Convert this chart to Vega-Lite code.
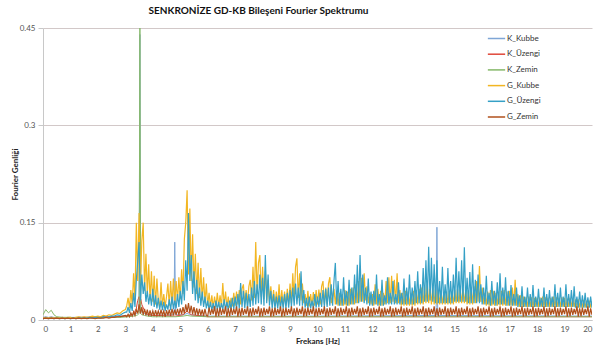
{
"$schema":"https://vega.github.io/schema/vega-lite/v6.json",
"width":549,"height":292,
"autosize":{"type":"none"},
"padding":{"left":43,"top":28,"right":4,"bottom":25},
"background":"white",
"title":{"text":"SENKRONİZE GD-KB Bileşeni Fourier Spektrumu","font":"Lato","fontSize":10,"fontWeight":"bold","color":"#111","anchor":"middle","dx":-59,"offset":8},
"config":{"view":{"stroke":null},"font":"Lato"},
"datasets":{
"k":[
{"f":0,"K_Kubbe":0.004,"K_Üzengi":0.003,"K_Zemin":0.008},
{"f":0.1,"K_Kubbe":0.005,"K_Üzengi":0.004,"K_Zemin":0.016},
{"f":0.2,"K_Kubbe":0.004,"K_Üzengi":0.003,"K_Zemin":0.011},
{"f":0.3,"K_Kubbe":0.005,"K_Üzengi":0.004,"K_Zemin":0.015},
{"f":0.4,"K_Kubbe":0.004,"K_Üzengi":0.003,"K_Zemin":0.008},
{"f":0.5,"K_Kubbe":0.004,"K_Üzengi":0.003,"K_Zemin":0.005},
{"f":0.7,"K_Kubbe":0.004,"K_Üzengi":0.004,"K_Zemin":0.004},
{"f":1.0,"K_Kubbe":0.004,"K_Üzengi":0.003,"K_Zemin":0.004},
{"f":1.3,"K_Kubbe":0.004,"K_Üzengi":0.004,"K_Zemin":0.003},
{"f":1.6,"K_Kubbe":0.004,"K_Üzengi":0.004,"K_Zemin":0.004},
{"f":2.0,"K_Kubbe":0.005,"K_Üzengi":0.004,"K_Zemin":0.003},
{"f":2.4,"K_Kubbe":0.005,"K_Üzengi":0.005,"K_Zemin":0.004},
{"f":2.8,"K_Kubbe":0.006,"K_Üzengi":0.005,"K_Zemin":0.004},
{"f":3.1,"K_Kubbe":0.007,"K_Üzengi":0.006,"K_Zemin":0.005},
{"f":3.3,"K_Kubbe":0.008,"K_Üzengi":0.009,"K_Zemin":0.006},
{"f":3.4,"K_Kubbe":0.01,"K_Üzengi":0.018,"K_Zemin":0.007},
{"f":3.45,"K_Kubbe":0.012,"K_Üzengi":0.03,"K_Zemin":0.008},
{"f":3.5,"K_Kubbe":0.014,"K_Üzengi":0.036,"K_Zemin":0.01},
{"f":3.53,"K_Kubbe":0.44,"K_Üzengi":0.022,"K_Zemin":0.45},
{"f":3.56,"K_Kubbe":0.014,"K_Üzengi":0.032,"K_Zemin":0.01},
{"f":3.6,"K_Kubbe":0.012,"K_Üzengi":0.024,"K_Zemin":0.008},
{"f":3.7,"K_Kubbe":0.01,"K_Üzengi":0.014,"K_Zemin":0.007},
{"f":3.8,"K_Kubbe":0.008,"K_Üzengi":0.009,"K_Zemin":0.006},
{"f":4.0,"K_Kubbe":0.007,"K_Üzengi":0.007,"K_Zemin":0.005},
{"f":4.77,"K_Kubbe":0.008,"K_Üzengi":0.006,"K_Zemin":0.005},
{"f":4.8,"K_Kubbe":0.12,"K_Üzengi":0.006,"K_Zemin":0.005},
{"f":4.83,"K_Kubbe":0.008,"K_Üzengi":0.006,"K_Zemin":0.005},
{"f":5.1,"K_Kubbe":0.008,"K_Üzengi":0.008,"K_Zemin":0.006},
{"f":5.25,"K_Kubbe":0.01,"K_Üzengi":0.014,"K_Zemin":0.007},
{"f":5.4,"K_Kubbe":0.008,"K_Üzengi":0.008,"K_Zemin":0.006},
{"f":6.0,"K_Kubbe":0.006,"K_Üzengi":0.005,"K_Zemin":0.005},
{"f":10.0,"K_Kubbe":0.006,"K_Üzengi":0.005,"K_Zemin":0.005},
{"f":14.32,"K_Kubbe":0.007,"K_Üzengi":0.005,"K_Zemin":0.005},
{"f":14.35,"K_Kubbe":0.143,"K_Üzengi":0.005,"K_Zemin":0.005},
{"f":14.38,"K_Kubbe":0.007,"K_Üzengi":0.005,"K_Zemin":0.005},
{"f":20.0,"K_Kubbe":0.006,"K_Üzengi":0.005,"K_Zemin":0.005}
],
"g":[
{"f":0,"G_Kubbe":0.003,"G_Üzengi":0.002,"G_Zemin":0.002},
{"f":0.1,"G_Kubbe":0.004,"G_Üzengi":0.003,"G_Zemin":0.003},
{"f":0.2,"G_Kubbe":0.003,"G_Üzengi":0.002,"G_Zemin":0.002},
{"f":0.3,"G_Kubbe":0.004,"G_Üzengi":0.003,"G_Zemin":0.003},
{"f":0.4,"G_Kubbe":0.003,"G_Üzengi":0.002,"G_Zemin":0.002},
{"f":0.5,"G_Kubbe":0.004,"G_Üzengi":0.003,"G_Zemin":0.003},
{"f":0.6,"G_Kubbe":0.003,"G_Üzengi":0.002,"G_Zemin":0.002},
{"f":0.7,"G_Kubbe":0.004,"G_Üzengi":0.003,"G_Zemin":0.003},
{"f":0.8,"G_Kubbe":0.003,"G_Üzengi":0.002,"G_Zemin":0.002},
{"f":0.9,"G_Kubbe":0.004,"G_Üzengi":0.003,"G_Zemin":0.003},
{"f":1.0,"G_Kubbe":0.004,"G_Üzengi":0.002,"G_Zemin":0.002},
{"f":1.1,"G_Kubbe":0.003,"G_Üzengi":0.003,"G_Zemin":0.003},
{"f":1.2,"G_Kubbe":0.004,"G_Üzengi":0.002,"G_Zemin":0.002},
{"f":1.3,"G_Kubbe":0.005,"G_Üzengi":0.003,"G_Zemin":0.003},
{"f":1.4,"G_Kubbe":0.004,"G_Üzengi":0.003,"G_Zemin":0.002},
{"f":1.5,"G_Kubbe":0.005,"G_Üzengi":0.003,"G_Zemin":0.003},
{"f":1.6,"G_Kubbe":0.004,"G_Üzengi":0.003,"G_Zemin":0.002},
{"f":1.7,"G_Kubbe":0.005,"G_Üzengi":0.004,"G_Zemin":0.003},
{"f":1.8,"G_Kubbe":0.006,"G_Üzengi":0.003,"G_Zemin":0.003},
{"f":1.9,"G_Kubbe":0.005,"G_Üzengi":0.004,"G_Zemin":0.002},
{"f":2.0,"G_Kubbe":0.006,"G_Üzengi":0.004,"G_Zemin":0.003},
{"f":2.1,"G_Kubbe":0.005,"G_Üzengi":0.003,"G_Zemin":0.003},
{"f":2.2,"G_Kubbe":0.007,"G_Üzengi":0.005,"G_Zemin":0.003},
{"f":2.3,"G_Kubbe":0.006,"G_Üzengi":0.004,"G_Zemin":0.004},
{"f":2.4,"G_Kubbe":0.008,"G_Üzengi":0.005,"G_Zemin":0.003},
{"f":2.5,"G_Kubbe":0.007,"G_Üzengi":0.006,"G_Zemin":0.004},
{"f":2.6,"G_Kubbe":0.009,"G_Üzengi":0.006,"G_Zemin":0.004},
{"f":2.7,"G_Kubbe":0.011,"G_Üzengi":0.008,"G_Zemin":0.005},
{"f":2.8,"G_Kubbe":0.01,"G_Üzengi":0.007,"G_Zemin":0.005},
{"f":2.9,"G_Kubbe":0.014,"G_Üzengi":0.01,"G_Zemin":0.006},
{"f":3.0,"G_Kubbe":0.016,"G_Üzengi":0.012,"G_Zemin":0.007},
{"f":3.05,"G_Kubbe":0.022,"G_Üzengi":0.012,"G_Zemin":0.005},
{"f":3.1,"G_Kubbe":0.034,"G_Üzengi":0.02,"G_Zemin":0.009},
{"f":3.15,"G_Kubbe":0.018,"G_Üzengi":0.011,"G_Zemin":0.005},
{"f":3.2,"G_Kubbe":0.046,"G_Üzengi":0.026,"G_Zemin":0.011},
{"f":3.25,"G_Kubbe":0.024,"G_Üzengi":0.014,"G_Zemin":0.006},
{"f":3.3,"G_Kubbe":0.072,"G_Üzengi":0.042,"G_Zemin":0.013},
{"f":3.35,"G_Kubbe":0.03,"G_Üzengi":0.02,"G_Zemin":0.007},
{"f":3.4,"G_Kubbe":0.15,"G_Üzengi":0.062,"G_Zemin":0.016},
{"f":3.45,"G_Kubbe":0.06,"G_Üzengi":0.09,"G_Zemin":0.01},
{"f":3.5,"G_Kubbe":0.165,"G_Üzengi":0.12,"G_Zemin":0.024},
{"f":3.55,"G_Kubbe":0.05,"G_Üzengi":0.03,"G_Zemin":0.01},
{"f":3.6,"G_Kubbe":0.122,"G_Üzengi":0.07,"G_Zemin":0.02},
{"f":3.65,"G_Kubbe":0.15,"G_Üzengi":0.04,"G_Zemin":0.008},
{"f":3.7,"G_Kubbe":0.045,"G_Üzengi":0.058,"G_Zemin":0.017},
{"f":3.75,"G_Kubbe":0.102,"G_Üzengi":0.028,"G_Zemin":0.007},
{"f":3.8,"G_Kubbe":0.04,"G_Üzengi":0.045,"G_Zemin":0.016},
{"f":3.85,"G_Kubbe":0.086,"G_Üzengi":0.024,"G_Zemin":0.006},
{"f":3.9,"G_Kubbe":0.03,"G_Üzengi":0.04,"G_Zemin":0.015},
{"f":3.95,"G_Kubbe":0.075,"G_Üzengi":0.022,"G_Zemin":0.006},
{"f":4.0,"G_Kubbe":0.028,"G_Üzengi":0.048,"G_Zemin":0.014},
{"f":4.05,"G_Kubbe":0.068,"G_Üzengi":0.02,"G_Zemin":0.006},
{"f":4.1,"G_Kubbe":0.024,"G_Üzengi":0.038,"G_Zemin":0.015},
{"f":4.15,"G_Kubbe":0.064,"G_Üzengi":0.018,"G_Zemin":0.007},
{"f":4.2,"G_Kubbe":0.03,"G_Üzengi":0.034,"G_Zemin":0.014},
{"f":4.25,"G_Kubbe":0.02,"G_Üzengi":0.016,"G_Zemin":0.006},
{"f":4.3,"G_Kubbe":0.058,"G_Üzengi":0.03,"G_Zemin":0.016},
{"f":4.35,"G_Kubbe":0.022,"G_Üzengi":0.015,"G_Zemin":0.007},
{"f":4.4,"G_Kubbe":0.04,"G_Üzengi":0.028,"G_Zemin":0.014},
{"f":4.45,"G_Kubbe":0.02,"G_Üzengi":0.014,"G_Zemin":0.005},
{"f":4.5,"G_Kubbe":0.036,"G_Üzengi":0.024,"G_Zemin":0.015},
{"f":4.55,"G_Kubbe":0.056,"G_Üzengi":0.016,"G_Zemin":0.007},
{"f":4.6,"G_Kubbe":0.022,"G_Üzengi":0.032,"G_Zemin":0.016},
{"f":4.65,"G_Kubbe":0.06,"G_Üzengi":0.015,"G_Zemin":0.006},
{"f":4.7,"G_Kubbe":0.024,"G_Üzengi":0.036,"G_Zemin":0.017},
{"f":4.75,"G_Kubbe":0.064,"G_Üzengi":0.017,"G_Zemin":0.007},
{"f":4.8,"G_Kubbe":0.026,"G_Üzengi":0.03,"G_Zemin":0.016},
{"f":4.85,"G_Kubbe":0.06,"G_Üzengi":0.018,"G_Zemin":0.008},
{"f":4.9,"G_Kubbe":0.03,"G_Üzengi":0.04,"G_Zemin":0.017},
{"f":4.95,"G_Kubbe":0.066,"G_Üzengi":0.02,"G_Zemin":0.008},
{"f":5.0,"G_Kubbe":0.032,"G_Üzengi":0.045,"G_Zemin":0.018},
{"f":5.05,"G_Kubbe":0.078,"G_Üzengi":0.024,"G_Zemin":0.009},
{"f":5.1,"G_Kubbe":0.04,"G_Üzengi":0.06,"G_Zemin":0.02},
{"f":5.15,"G_Kubbe":0.125,"G_Üzengi":0.03,"G_Zemin":0.01},
{"f":5.2,"G_Kubbe":0.15,"G_Üzengi":0.092,"G_Zemin":0.024},
{"f":5.25,"G_Kubbe":0.2,"G_Üzengi":0.045,"G_Zemin":0.012},
{"f":5.3,"G_Kubbe":0.07,"G_Üzengi":0.165,"G_Zemin":0.026},
{"f":5.35,"G_Kubbe":0.172,"G_Üzengi":0.06,"G_Zemin":0.011},
{"f":5.4,"G_Kubbe":0.06,"G_Üzengi":0.1,"G_Zemin":0.022},
{"f":5.45,"G_Kubbe":0.132,"G_Üzengi":0.04,"G_Zemin":0.009},
{"f":5.5,"G_Kubbe":0.05,"G_Üzengi":0.075,"G_Zemin":0.02},
{"f":5.55,"G_Kubbe":0.102,"G_Üzengi":0.03,"G_Zemin":0.008},
{"f":5.6,"G_Kubbe":0.04,"G_Üzengi":0.062,"G_Zemin":0.018},
{"f":5.65,"G_Kubbe":0.088,"G_Üzengi":0.026,"G_Zemin":0.007},
{"f":5.7,"G_Kubbe":0.034,"G_Üzengi":0.05,"G_Zemin":0.017},
{"f":5.75,"G_Kubbe":0.08,"G_Üzengi":0.022,"G_Zemin":0.007},
{"f":5.8,"G_Kubbe":0.03,"G_Üzengi":0.044,"G_Zemin":0.016},
{"f":5.85,"G_Kubbe":0.066,"G_Üzengi":0.02,"G_Zemin":0.006},
{"f":5.9,"G_Kubbe":0.026,"G_Üzengi":0.036,"G_Zemin":0.017},
{"f":5.95,"G_Kubbe":0.056,"G_Üzengi":0.018,"G_Zemin":0.007},
{"f":6.0,"G_Kubbe":0.022,"G_Üzengi":0.03,"G_Zemin":0.006},
{"f":6.05,"G_Kubbe":0.042,"G_Üzengi":0.016,"G_Zemin":0.019},
{"f":6.1,"G_Kubbe":0.02,"G_Üzengi":0.028,"G_Zemin":0.008},
{"f":6.15,"G_Kubbe":0.038,"G_Üzengi":0.015,"G_Zemin":0.017},
{"f":6.2,"G_Kubbe":0.019,"G_Üzengi":0.026,"G_Zemin":0.009},
{"f":6.25,"G_Kubbe":0.036,"G_Üzengi":0.014,"G_Zemin":0.021},
{"f":6.3,"G_Kubbe":0.02,"G_Üzengi":0.03,"G_Zemin":0.005},
{"f":6.35,"G_Kubbe":0.042,"G_Üzengi":0.016,"G_Zemin":0.018},
{"f":6.4,"G_Kubbe":0.021,"G_Üzengi":0.028,"G_Zemin":0.006},
{"f":6.45,"G_Kubbe":0.038,"G_Üzengi":0.015,"G_Zemin":0.019},
{"f":6.5,"G_Kubbe":0.02,"G_Üzengi":0.026,"G_Zemin":0.008},
{"f":6.55,"G_Kubbe":0.057,"G_Üzengi":0.016,"G_Zemin":0.017},
{"f":6.6,"G_Kubbe":0.022,"G_Üzengi":0.032,"G_Zemin":0.009},
{"f":6.65,"G_Kubbe":0.044,"G_Üzengi":0.016,"G_Zemin":0.021},
{"f":6.7,"G_Kubbe":0.02,"G_Üzengi":0.028,"G_Zemin":0.005},
{"f":6.75,"G_Kubbe":0.036,"G_Üzengi":0.015,"G_Zemin":0.018},
{"f":6.8,"G_Kubbe":0.019,"G_Üzengi":0.03,"G_Zemin":0.006},
{"f":6.85,"G_Kubbe":0.034,"G_Üzengi":0.016,"G_Zemin":0.019},
{"f":6.9,"G_Kubbe":0.021,"G_Üzengi":0.034,"G_Zemin":0.008},
{"f":6.95,"G_Kubbe":0.042,"G_Üzengi":0.017,"G_Zemin":0.017},
{"f":7.0,"G_Kubbe":0.022,"G_Üzengi":0.036,"G_Zemin":0.009},
{"f":7.05,"G_Kubbe":0.044,"G_Üzengi":0.018,"G_Zemin":0.021},
{"f":7.1,"G_Kubbe":0.024,"G_Üzengi":0.04,"G_Zemin":0.005},
{"f":7.15,"G_Kubbe":0.046,"G_Üzengi":0.018,"G_Zemin":0.018},
{"f":7.2,"G_Kubbe":0.024,"G_Üzengi":0.057,"G_Zemin":0.006},
{"f":7.25,"G_Kubbe":0.048,"G_Üzengi":0.02,"G_Zemin":0.019},
{"f":7.3,"G_Kubbe":0.055,"G_Üzengi":0.045,"G_Zemin":0.008},
{"f":7.35,"G_Kubbe":0.024,"G_Üzengi":0.018,"G_Zemin":0.017},
{"f":7.4,"G_Kubbe":0.046,"G_Üzengi":0.042,"G_Zemin":0.009},
{"f":7.45,"G_Kubbe":0.026,"G_Üzengi":0.018,"G_Zemin":0.021},
{"f":7.5,"G_Kubbe":0.052,"G_Üzengi":0.04,"G_Zemin":0.005},
{"f":7.55,"G_Kubbe":0.062,"G_Üzengi":0.02,"G_Zemin":0.018},
{"f":7.6,"G_Kubbe":0.03,"G_Üzengi":0.05,"G_Zemin":0.006},
{"f":7.65,"G_Kubbe":0.082,"G_Üzengi":0.022,"G_Zemin":0.019},
{"f":7.7,"G_Kubbe":0.034,"G_Üzengi":0.06,"G_Zemin":0.008},
{"f":7.75,"G_Kubbe":0.12,"G_Üzengi":0.024,"G_Zemin":0.017},
{"f":7.8,"G_Kubbe":0.04,"G_Üzengi":0.055,"G_Zemin":0.009},
{"f":7.85,"G_Kubbe":0.088,"G_Üzengi":0.026,"G_Zemin":0.021},
{"f":7.9,"G_Kubbe":0.1,"G_Üzengi":0.07,"G_Zemin":0.005},
{"f":7.95,"G_Kubbe":0.036,"G_Üzengi":0.024,"G_Zemin":0.018},
{"f":8.0,"G_Kubbe":0.082,"G_Üzengi":0.065,"G_Zemin":0.006},
{"f":8.05,"G_Kubbe":0.032,"G_Üzengi":0.022,"G_Zemin":0.019},
{"f":8.1,"G_Kubbe":0.076,"G_Üzengi":0.1,"G_Zemin":0.008},
{"f":8.15,"G_Kubbe":0.03,"G_Üzengi":0.026,"G_Zemin":0.017},
{"f":8.2,"G_Kubbe":0.062,"G_Üzengi":0.07,"G_Zemin":0.009},
{"f":8.25,"G_Kubbe":0.028,"G_Üzengi":0.022,"G_Zemin":0.021},
{"f":8.3,"G_Kubbe":0.052,"G_Üzengi":0.045,"G_Zemin":0.005},
{"f":8.35,"G_Kubbe":0.024,"G_Üzengi":0.018,"G_Zemin":0.018},
{"f":8.4,"G_Kubbe":0.046,"G_Üzengi":0.04,"G_Zemin":0.006},
{"f":8.45,"G_Kubbe":0.022,"G_Üzengi":0.017,"G_Zemin":0.019},
{"f":8.5,"G_Kubbe":0.044,"G_Üzengi":0.036,"G_Zemin":0.008},
{"f":8.55,"G_Kubbe":0.022,"G_Üzengi":0.018,"G_Zemin":0.017},
{"f":8.6,"G_Kubbe":0.055,"G_Üzengi":0.038,"G_Zemin":0.009},
{"f":8.65,"G_Kubbe":0.022,"G_Üzengi":0.017,"G_Zemin":0.021},
{"f":8.7,"G_Kubbe":0.046,"G_Üzengi":0.036,"G_Zemin":0.005},
{"f":8.75,"G_Kubbe":0.021,"G_Üzengi":0.018,"G_Zemin":0.018},
{"f":8.8,"G_Kubbe":0.044,"G_Üzengi":0.04,"G_Zemin":0.006},
{"f":8.85,"G_Kubbe":0.022,"G_Üzengi":0.018,"G_Zemin":0.019},
{"f":8.9,"G_Kubbe":0.048,"G_Üzengi":0.042,"G_Zemin":0.008},
{"f":8.95,"G_Kubbe":0.024,"G_Üzengi":0.019,"G_Zemin":0.017},
{"f":9.0,"G_Kubbe":0.056,"G_Üzengi":0.046,"G_Zemin":0.009},
{"f":9.05,"G_Kubbe":0.026,"G_Üzengi":0.02,"G_Zemin":0.021},
{"f":9.1,"G_Kubbe":0.072,"G_Üzengi":0.05,"G_Zemin":0.005},
{"f":9.15,"G_Kubbe":0.03,"G_Üzengi":0.022,"G_Zemin":0.018},
{"f":9.2,"G_Kubbe":0.082,"G_Üzengi":0.056,"G_Zemin":0.006},
{"f":9.25,"G_Kubbe":0.095,"G_Üzengi":0.024,"G_Zemin":0.019},
{"f":9.3,"G_Kubbe":0.034,"G_Üzengi":0.05,"G_Zemin":0.008},
{"f":9.35,"G_Kubbe":0.072,"G_Üzengi":0.022,"G_Zemin":0.017},
{"f":9.4,"G_Kubbe":0.03,"G_Üzengi":0.075,"G_Zemin":0.009},
{"f":9.45,"G_Kubbe":0.056,"G_Üzengi":0.022,"G_Zemin":0.021},
{"f":9.5,"G_Kubbe":0.026,"G_Üzengi":0.046,"G_Zemin":0.005},
{"f":9.55,"G_Kubbe":0.04,"G_Üzengi":0.019,"G_Zemin":0.018},
{"f":9.6,"G_Kubbe":0.022,"G_Üzengi":0.034,"G_Zemin":0.006},
{"f":9.65,"G_Kubbe":0.045,"G_Üzengi":0.018,"G_Zemin":0.019},
{"f":9.7,"G_Kubbe":0.021,"G_Üzengi":0.036,"G_Zemin":0.008},
{"f":9.75,"G_Kubbe":0.04,"G_Üzengi":0.018,"G_Zemin":0.017},
{"f":9.8,"G_Kubbe":0.022,"G_Üzengi":0.03,"G_Zemin":0.009},
{"f":9.85,"G_Kubbe":0.043,"G_Üzengi":0.018,"G_Zemin":0.021},
{"f":9.9,"G_Kubbe":0.022,"G_Üzengi":0.04,"G_Zemin":0.005},
{"f":9.95,"G_Kubbe":0.046,"G_Üzengi":0.019,"G_Zemin":0.018},
{"f":10.0,"G_Kubbe":0.024,"G_Üzengi":0.036,"G_Zemin":0.006},
{"f":10.05,"G_Kubbe":0.047,"G_Üzengi":0.02,"G_Zemin":0.019},
{"f":10.1,"G_Kubbe":0.024,"G_Üzengi":0.042,"G_Zemin":0.008},
{"f":10.15,"G_Kubbe":0.052,"G_Üzengi":0.02,"G_Zemin":0.017},
{"f":10.2,"G_Kubbe":0.06,"G_Üzengi":0.046,"G_Zemin":0.009},
{"f":10.25,"G_Kubbe":0.024,"G_Üzengi":0.02,"G_Zemin":0.021},
{"f":10.3,"G_Kubbe":0.05,"G_Üzengi":0.048,"G_Zemin":0.005},
{"f":10.35,"G_Kubbe":0.024,"G_Üzengi":0.02,"G_Zemin":0.018},
{"f":10.4,"G_Kubbe":0.056,"G_Üzengi":0.05,"G_Zemin":0.006},
{"f":10.45,"G_Kubbe":0.066,"G_Üzengi":0.022,"G_Zemin":0.019},
{"f":10.5,"G_Kubbe":0.026,"G_Üzengi":0.055,"G_Zemin":0.008},
{"f":10.55,"G_Kubbe":0.036,"G_Üzengi":0.022,"G_Zemin":0.017},
{"f":10.6,"G_Kubbe":0.048,"G_Üzengi":0.06,"G_Zemin":0.009},
{"f":10.65,"G_Kubbe":0.024,"G_Üzengi":0.088,"G_Zemin":0.021},
{"f":10.7,"G_Kubbe":0.045,"G_Üzengi":0.024,"G_Zemin":0.005},
{"f":10.75,"G_Kubbe":0.022,"G_Üzengi":0.06,"G_Zemin":0.018},
{"f":10.8,"G_Kubbe":0.042,"G_Üzengi":0.022,"G_Zemin":0.006},
{"f":10.85,"G_Kubbe":0.022,"G_Üzengi":0.048,"G_Zemin":0.019},
{"f":10.9,"G_Kubbe":0.04,"G_Üzengi":0.022,"G_Zemin":0.008},
{"f":10.95,"G_Kubbe":0.022,"G_Üzengi":0.066,"G_Zemin":0.017},
{"f":11.0,"G_Kubbe":0.046,"G_Üzengi":0.024,"G_Zemin":0.009},
{"f":11.05,"G_Kubbe":0.022,"G_Üzengi":0.045,"G_Zemin":0.021},
{"f":11.1,"G_Kubbe":0.044,"G_Üzengi":0.022,"G_Zemin":0.005},
{"f":11.15,"G_Kubbe":0.022,"G_Üzengi":0.062,"G_Zemin":0.018},
{"f":11.2,"G_Kubbe":0.048,"G_Üzengi":0.024,"G_Zemin":0.006},
{"f":11.25,"G_Kubbe":0.024,"G_Üzengi":0.05,"G_Zemin":0.019},
{"f":11.3,"G_Kubbe":0.05,"G_Üzengi":0.024,"G_Zemin":0.008},
{"f":11.35,"G_Kubbe":0.024,"G_Üzengi":0.07,"G_Zemin":0.017},
{"f":11.4,"G_Kubbe":0.055,"G_Üzengi":0.026,"G_Zemin":0.009},
{"f":11.45,"G_Kubbe":0.026,"G_Üzengi":0.085,"G_Zemin":0.021},
{"f":11.5,"G_Kubbe":0.06,"G_Üzengi":0.026,"G_Zemin":0.005},
{"f":11.55,"G_Kubbe":0.028,"G_Üzengi":0.1,"G_Zemin":0.018},
{"f":11.6,"G_Kubbe":0.065,"G_Üzengi":0.028,"G_Zemin":0.006},
{"f":11.65,"G_Kubbe":0.028,"G_Üzengi":0.07,"G_Zemin":0.019},
{"f":11.7,"G_Kubbe":0.072,"G_Üzengi":0.026,"G_Zemin":0.008},
{"f":11.75,"G_Kubbe":0.03,"G_Üzengi":0.05,"G_Zemin":0.017},
{"f":11.8,"G_Kubbe":0.052,"G_Üzengi":0.024,"G_Zemin":0.009},
{"f":11.85,"G_Kubbe":0.026,"G_Üzengi":0.064,"G_Zemin":0.021},
{"f":11.9,"G_Kubbe":0.042,"G_Üzengi":0.022,"G_Zemin":0.005},
{"f":11.95,"G_Kubbe":0.024,"G_Üzengi":0.044,"G_Zemin":0.018},
{"f":12.0,"G_Kubbe":0.04,"G_Üzengi":0.022,"G_Zemin":0.006},
{"f":12.05,"G_Kubbe":0.022,"G_Üzengi":0.045,"G_Zemin":0.019},
{"f":12.1,"G_Kubbe":0.055,"G_Üzengi":0.024,"G_Zemin":0.008},
{"f":12.15,"G_Kubbe":0.024,"G_Üzengi":0.07,"G_Zemin":0.017},
{"f":12.2,"G_Kubbe":0.048,"G_Üzengi":0.022,"G_Zemin":0.009},
{"f":12.25,"G_Kubbe":0.022,"G_Üzengi":0.04,"G_Zemin":0.021},
{"f":12.3,"G_Kubbe":0.045,"G_Üzengi":0.022,"G_Zemin":0.005},
{"f":12.35,"G_Kubbe":0.022,"G_Üzengi":0.062,"G_Zemin":0.018},
{"f":12.4,"G_Kubbe":0.042,"G_Üzengi":0.022,"G_Zemin":0.006},
{"f":12.45,"G_Kubbe":0.024,"G_Üzengi":0.038,"G_Zemin":0.019},
{"f":12.5,"G_Kubbe":0.06,"G_Üzengi":0.024,"G_Zemin":0.008},
{"f":12.55,"G_Kubbe":0.026,"G_Üzengi":0.066,"G_Zemin":0.017},
{"f":12.6,"G_Kubbe":0.066,"G_Üzengi":0.024,"G_Zemin":0.009},
{"f":12.65,"G_Kubbe":0.026,"G_Üzengi":0.042,"G_Zemin":0.021},
{"f":12.7,"G_Kubbe":0.068,"G_Üzengi":0.024,"G_Zemin":0.005},
{"f":12.75,"G_Kubbe":0.028,"G_Üzengi":0.06,"G_Zemin":0.018},
{"f":12.8,"G_Kubbe":0.062,"G_Üzengi":0.024,"G_Zemin":0.006},
{"f":12.85,"G_Kubbe":0.026,"G_Üzengi":0.04,"G_Zemin":0.019},
{"f":12.9,"G_Kubbe":0.072,"G_Üzengi":0.024,"G_Zemin":0.008},
{"f":12.95,"G_Kubbe":0.026,"G_Üzengi":0.058,"G_Zemin":0.017},
{"f":13.0,"G_Kubbe":0.046,"G_Üzengi":0.024,"G_Zemin":0.009},
{"f":13.05,"G_Kubbe":0.022,"G_Üzengi":0.042,"G_Zemin":0.021},
{"f":13.1,"G_Kubbe":0.042,"G_Üzengi":0.024,"G_Zemin":0.005},
{"f":13.15,"G_Kubbe":0.022,"G_Üzengi":0.064,"G_Zemin":0.018},
{"f":13.2,"G_Kubbe":0.045,"G_Üzengi":0.024,"G_Zemin":0.006},
{"f":13.25,"G_Kubbe":0.022,"G_Üzengi":0.05,"G_Zemin":0.019},
{"f":13.3,"G_Kubbe":0.044,"G_Üzengi":0.024,"G_Zemin":0.008},
{"f":13.35,"G_Kubbe":0.022,"G_Üzengi":0.07,"G_Zemin":0.017},
{"f":13.4,"G_Kubbe":0.042,"G_Üzengi":0.024,"G_Zemin":0.009},
{"f":13.45,"G_Kubbe":0.022,"G_Üzengi":0.05,"G_Zemin":0.021},
{"f":13.5,"G_Kubbe":0.045,"G_Üzengi":0.024,"G_Zemin":0.005},
{"f":13.55,"G_Kubbe":0.022,"G_Üzengi":0.06,"G_Zemin":0.018},
{"f":13.6,"G_Kubbe":0.046,"G_Üzengi":0.026,"G_Zemin":0.006},
{"f":13.65,"G_Kubbe":0.024,"G_Üzengi":0.075,"G_Zemin":0.019},
{"f":13.7,"G_Kubbe":0.048,"G_Üzengi":0.026,"G_Zemin":0.008},
{"f":13.75,"G_Kubbe":0.024,"G_Üzengi":0.055,"G_Zemin":0.017},
{"f":13.8,"G_Kubbe":0.05,"G_Üzengi":0.026,"G_Zemin":0.009},
{"f":13.85,"G_Kubbe":0.024,"G_Üzengi":0.08,"G_Zemin":0.021},
{"f":13.9,"G_Kubbe":0.052,"G_Üzengi":0.028,"G_Zemin":0.005},
{"f":13.95,"G_Kubbe":0.026,"G_Üzengi":0.092,"G_Zemin":0.018},
{"f":14.0,"G_Kubbe":0.055,"G_Üzengi":0.028,"G_Zemin":0.006},
{"f":14.05,"G_Kubbe":0.026,"G_Üzengi":0.113,"G_Zemin":0.019},
{"f":14.1,"G_Kubbe":0.048,"G_Üzengi":0.03,"G_Zemin":0.008},
{"f":14.15,"G_Kubbe":0.024,"G_Üzengi":0.096,"G_Zemin":0.017},
{"f":14.2,"G_Kubbe":0.05,"G_Üzengi":0.028,"G_Zemin":0.009},
{"f":14.25,"G_Kubbe":0.024,"G_Üzengi":0.086,"G_Zemin":0.021},
{"f":14.3,"G_Kubbe":0.048,"G_Üzengi":0.026,"G_Zemin":0.005},
{"f":14.35,"G_Kubbe":0.024,"G_Üzengi":0.092,"G_Zemin":0.018},
{"f":14.4,"G_Kubbe":0.045,"G_Üzengi":0.026,"G_Zemin":0.006},
{"f":14.45,"G_Kubbe":0.024,"G_Üzengi":0.06,"G_Zemin":0.019},
{"f":14.5,"G_Kubbe":0.044,"G_Üzengi":0.026,"G_Zemin":0.008},
{"f":14.55,"G_Kubbe":0.024,"G_Üzengi":0.082,"G_Zemin":0.017},
{"f":14.6,"G_Kubbe":0.042,"G_Üzengi":0.026,"G_Zemin":0.009},
{"f":14.65,"G_Kubbe":0.024,"G_Üzengi":0.055,"G_Zemin":0.021},
{"f":14.7,"G_Kubbe":0.044,"G_Üzengi":0.026,"G_Zemin":0.005},
{"f":14.75,"G_Kubbe":0.024,"G_Üzengi":0.08,"G_Zemin":0.018},
{"f":14.8,"G_Kubbe":0.045,"G_Üzengi":0.026,"G_Zemin":0.006},
{"f":14.85,"G_Kubbe":0.024,"G_Üzengi":0.06,"G_Zemin":0.019},
{"f":14.9,"G_Kubbe":0.044,"G_Üzengi":0.026,"G_Zemin":0.008},
{"f":14.95,"G_Kubbe":0.024,"G_Üzengi":0.07,"G_Zemin":0.017},
{"f":15.0,"G_Kubbe":0.046,"G_Üzengi":0.028,"G_Zemin":0.009},
{"f":15.05,"G_Kubbe":0.026,"G_Üzengi":0.096,"G_Zemin":0.021},
{"f":15.1,"G_Kubbe":0.048,"G_Üzengi":0.028,"G_Zemin":0.005},
{"f":15.15,"G_Kubbe":0.026,"G_Üzengi":0.075,"G_Zemin":0.018},
{"f":15.2,"G_Kubbe":0.046,"G_Üzengi":0.028,"G_Zemin":0.006},
{"f":15.25,"G_Kubbe":0.026,"G_Üzengi":0.092,"G_Zemin":0.019},
{"f":15.3,"G_Kubbe":0.048,"G_Üzengi":0.028,"G_Zemin":0.008},
{"f":15.35,"G_Kubbe":0.026,"G_Üzengi":0.112,"G_Zemin":0.017},
{"f":15.4,"G_Kubbe":0.046,"G_Üzengi":0.028,"G_Zemin":0.009},
{"f":15.45,"G_Kubbe":0.024,"G_Üzengi":0.065,"G_Zemin":0.021},
{"f":15.5,"G_Kubbe":0.045,"G_Üzengi":0.026,"G_Zemin":0.005},
{"f":15.55,"G_Kubbe":0.024,"G_Üzengi":0.074,"G_Zemin":0.018},
{"f":15.6,"G_Kubbe":0.05,"G_Üzengi":0.026,"G_Zemin":0.006},
{"f":15.65,"G_Kubbe":0.024,"G_Üzengi":0.086,"G_Zemin":0.019},
{"f":15.7,"G_Kubbe":0.052,"G_Üzengi":0.026,"G_Zemin":0.008},
{"f":15.75,"G_Kubbe":0.026,"G_Üzengi":0.062,"G_Zemin":0.017},
{"f":15.8,"G_Kubbe":0.06,"G_Üzengi":0.026,"G_Zemin":0.009},
{"f":15.85,"G_Kubbe":0.028,"G_Üzengi":0.07,"G_Zemin":0.021},
{"f":15.9,"G_Kubbe":0.083,"G_Üzengi":0.026,"G_Zemin":0.005},
{"f":15.95,"G_Kubbe":0.028,"G_Üzengi":0.055,"G_Zemin":0.018},
{"f":16.0,"G_Kubbe":0.05,"G_Üzengi":0.024,"G_Zemin":0.006},
{"f":16.05,"G_Kubbe":0.024,"G_Üzengi":0.05,"G_Zemin":0.019},
{"f":16.1,"G_Kubbe":0.042,"G_Üzengi":0.024,"G_Zemin":0.008},
{"f":16.15,"G_Kubbe":0.022,"G_Üzengi":0.068,"G_Zemin":0.017},
{"f":16.2,"G_Kubbe":0.044,"G_Üzengi":0.024,"G_Zemin":0.009},
{"f":16.25,"G_Kubbe":0.022,"G_Üzengi":0.042,"G_Zemin":0.021},
{"f":16.3,"G_Kubbe":0.046,"G_Üzengi":0.022,"G_Zemin":0.005},
{"f":16.35,"G_Kubbe":0.022,"G_Üzengi":0.06,"G_Zemin":0.018},
{"f":16.4,"G_Kubbe":0.045,"G_Üzengi":0.024,"G_Zemin":0.006},
{"f":16.45,"G_Kubbe":0.022,"G_Üzengi":0.045,"G_Zemin":0.019},
{"f":16.5,"G_Kubbe":0.042,"G_Üzengi":0.022,"G_Zemin":0.008},
{"f":16.55,"G_Kubbe":0.022,"G_Üzengi":0.058,"G_Zemin":0.017},
{"f":16.6,"G_Kubbe":0.044,"G_Üzengi":0.024,"G_Zemin":0.009},
{"f":16.65,"G_Kubbe":0.022,"G_Üzengi":0.072,"G_Zemin":0.021},
{"f":16.7,"G_Kubbe":0.045,"G_Üzengi":0.024,"G_Zemin":0.005},
{"f":16.75,"G_Kubbe":0.022,"G_Üzengi":0.05,"G_Zemin":0.018},
{"f":16.8,"G_Kubbe":0.046,"G_Üzengi":0.024,"G_Zemin":0.006},
{"f":16.85,"G_Kubbe":0.022,"G_Üzengi":0.066,"G_Zemin":0.019},
{"f":16.9,"G_Kubbe":0.044,"G_Üzengi":0.022,"G_Zemin":0.008},
{"f":16.95,"G_Kubbe":0.022,"G_Üzengi":0.045,"G_Zemin":0.017},
{"f":17.0,"G_Kubbe":0.045,"G_Üzengi":0.022,"G_Zemin":0.009},
{"f":17.05,"G_Kubbe":0.022,"G_Üzengi":0.054,"G_Zemin":0.021},
{"f":17.1,"G_Kubbe":0.05,"G_Üzengi":0.022,"G_Zemin":0.005},
{"f":17.15,"G_Kubbe":0.022,"G_Üzengi":0.04,"G_Zemin":0.018},
{"f":17.2,"G_Kubbe":0.062,"G_Üzengi":0.022,"G_Zemin":0.006},
{"f":17.25,"G_Kubbe":0.022,"G_Üzengi":0.05,"G_Zemin":0.019},
{"f":17.3,"G_Kubbe":0.04,"G_Üzengi":0.02,"G_Zemin":0.008},
{"f":17.35,"G_Kubbe":0.02,"G_Üzengi":0.038,"G_Zemin":0.017},
{"f":17.4,"G_Kubbe":0.038,"G_Üzengi":0.02,"G_Zemin":0.009},
{"f":17.45,"G_Kubbe":0.02,"G_Üzengi":0.052,"G_Zemin":0.021},
{"f":17.5,"G_Kubbe":0.036,"G_Üzengi":0.02,"G_Zemin":0.005},
{"f":17.55,"G_Kubbe":0.02,"G_Üzengi":0.036,"G_Zemin":0.018},
{"f":17.6,"G_Kubbe":0.035,"G_Üzengi":0.02,"G_Zemin":0.006},
{"f":17.65,"G_Kubbe":0.02,"G_Üzengi":0.05,"G_Zemin":0.019},
{"f":17.7,"G_Kubbe":0.036,"G_Üzengi":0.02,"G_Zemin":0.008},
{"f":17.75,"G_Kubbe":0.02,"G_Üzengi":0.04,"G_Zemin":0.017},
{"f":17.8,"G_Kubbe":0.035,"G_Üzengi":0.02,"G_Zemin":0.009},
{"f":17.85,"G_Kubbe":0.02,"G_Üzengi":0.054,"G_Zemin":0.021},
{"f":17.9,"G_Kubbe":0.034,"G_Üzengi":0.02,"G_Zemin":0.005},
{"f":17.95,"G_Kubbe":0.02,"G_Üzengi":0.036,"G_Zemin":0.018},
{"f":18.0,"G_Kubbe":0.034,"G_Üzengi":0.02,"G_Zemin":0.006},
{"f":18.05,"G_Kubbe":0.02,"G_Üzengi":0.048,"G_Zemin":0.019},
{"f":18.1,"G_Kubbe":0.035,"G_Üzengi":0.02,"G_Zemin":0.008},
{"f":18.15,"G_Kubbe":0.02,"G_Üzengi":0.034,"G_Zemin":0.017},
{"f":18.2,"G_Kubbe":0.036,"G_Üzengi":0.02,"G_Zemin":0.009},
{"f":18.25,"G_Kubbe":0.02,"G_Üzengi":0.05,"G_Zemin":0.021},
{"f":18.3,"G_Kubbe":0.035,"G_Üzengi":0.02,"G_Zemin":0.005},
{"f":18.35,"G_Kubbe":0.02,"G_Üzengi":0.04,"G_Zemin":0.018},
{"f":18.4,"G_Kubbe":0.034,"G_Üzengi":0.02,"G_Zemin":0.006},
{"f":18.45,"G_Kubbe":0.02,"G_Üzengi":0.046,"G_Zemin":0.019},
{"f":18.5,"G_Kubbe":0.034,"G_Üzengi":0.02,"G_Zemin":0.008},
{"f":18.55,"G_Kubbe":0.02,"G_Üzengi":0.036,"G_Zemin":0.017},
{"f":18.6,"G_Kubbe":0.036,"G_Üzengi":0.02,"G_Zemin":0.009},
{"f":18.65,"G_Kubbe":0.02,"G_Üzengi":0.055,"G_Zemin":0.021},
{"f":18.7,"G_Kubbe":0.035,"G_Üzengi":0.02,"G_Zemin":0.005},
{"f":18.75,"G_Kubbe":0.02,"G_Üzengi":0.042,"G_Zemin":0.018},
{"f":18.8,"G_Kubbe":0.034,"G_Üzengi":0.02,"G_Zemin":0.006},
{"f":18.85,"G_Kubbe":0.02,"G_Üzengi":0.05,"G_Zemin":0.019},
{"f":18.9,"G_Kubbe":0.035,"G_Üzengi":0.02,"G_Zemin":0.008},
{"f":18.95,"G_Kubbe":0.02,"G_Üzengi":0.036,"G_Zemin":0.017},
{"f":19.0,"G_Kubbe":0.034,"G_Üzengi":0.02,"G_Zemin":0.009},
{"f":19.05,"G_Kubbe":0.02,"G_Üzengi":0.055,"G_Zemin":0.021},
{"f":19.1,"G_Kubbe":0.033,"G_Üzengi":0.02,"G_Zemin":0.005},
{"f":19.15,"G_Kubbe":0.02,"G_Üzengi":0.04,"G_Zemin":0.018},
{"f":19.2,"G_Kubbe":0.034,"G_Üzengi":0.02,"G_Zemin":0.006},
{"f":19.25,"G_Kubbe":0.02,"G_Üzengi":0.046,"G_Zemin":0.019},
{"f":19.3,"G_Kubbe":0.033,"G_Üzengi":0.02,"G_Zemin":0.008},
{"f":19.35,"G_Kubbe":0.02,"G_Üzengi":0.052,"G_Zemin":0.017},
{"f":19.4,"G_Kubbe":0.032,"G_Üzengi":0.019,"G_Zemin":0.009},
{"f":19.45,"G_Kubbe":0.019,"G_Üzengi":0.036,"G_Zemin":0.021},
{"f":19.5,"G_Kubbe":0.032,"G_Üzengi":0.019,"G_Zemin":0.005},
{"f":19.55,"G_Kubbe":0.019,"G_Üzengi":0.044,"G_Zemin":0.018},
{"f":19.6,"G_Kubbe":0.031,"G_Üzengi":0.019,"G_Zemin":0.006},
{"f":19.65,"G_Kubbe":0.019,"G_Üzengi":0.038,"G_Zemin":0.019},
{"f":19.7,"G_Kubbe":0.031,"G_Üzengi":0.019,"G_Zemin":0.008},
{"f":19.75,"G_Kubbe":0.019,"G_Üzengi":0.042,"G_Zemin":0.017},
{"f":19.8,"G_Kubbe":0.03,"G_Üzengi":0.019,"G_Zemin":0.009},
{"f":19.85,"G_Kubbe":0.019,"G_Üzengi":0.035,"G_Zemin":0.021},
{"f":19.9,"G_Kubbe":0.03,"G_Üzengi":0.019,"G_Zemin":0.005},
{"f":19.95,"G_Kubbe":0.019,"G_Üzengi":0.036,"G_Zemin":0.018},
{"f":20.0,"G_Kubbe":0.029,"G_Üzengi":0.019,"G_Zemin":0.008}
]
},
"encoding":{
"x":{"field":"f","type":"quantitative","scale":{"domain":[0,20],"nice":false},
 "axis":{"title":"Frekans [Hz]","values":[0,1,2,3,4,5,6,7,8,9,10,11,12,13,14,15,16,17,18,19,20],"grid":false,"domainColor":"#c8c8c8","ticks":false,"labelFontSize":8,"labelColor":"#555","labelPadding":5,"titleFontSize":8,"titleFontWeight":"bold","titleColor":"#222","titlePadding":4}},
"y":{"field":"Genlik","type":"quantitative","scale":{"domain":[0,0.45],"nice":false},
 "axis":{"title":"Fourier Genliği","values":[0,0.15,0.3,0.45],"format":".2~f","grid":true,"gridColor":"#d2c8c8","domainColor":"#c8c8c8","tickColor":"#c8c8c8","tickSize":5,"labelFontSize":8,"labelColor":"#555","labelPadding":3,"titleFontSize":8,"titleFontWeight":"bold","titleColor":"#222","titlePadding":0}},
"color":{"field":"Seri","type":"nominal",
 "scale":{"domain":["K_Kubbe","K_Üzengi","K_Zemin","G_Kubbe","G_Üzengi","G_Zemin"],"range":["#7fa6d6","#e0483a","#86b96a","#f2b622","#35a0c6","#b0501c"]},
 "legend":{"title":null,"orient":"none","legendX":444,"legendY":1,"symbolType":"stroke","symbolSize":300,"symbolStrokeWidth":1.5,"labelFontSize":8,"labelColor":"#333","rowPadding":1.7,"labelOffset":1}}
},
"layer":[
{"data":{"name":"k"},"transform":[{"fold":["K_Kubbe","K_Üzengi","K_Zemin"],"as":["Seri","Genlik"]}],"mark":{"type":"line","strokeWidth":1,"clip":true}},
{"data":{"name":"g"},"transform":[{"fold":["G_Kubbe","G_Üzengi","G_Zemin"],"as":["Seri","Genlik"]}],"mark":{"type":"line","strokeWidth":1.2,"clip":true}}
]
}
